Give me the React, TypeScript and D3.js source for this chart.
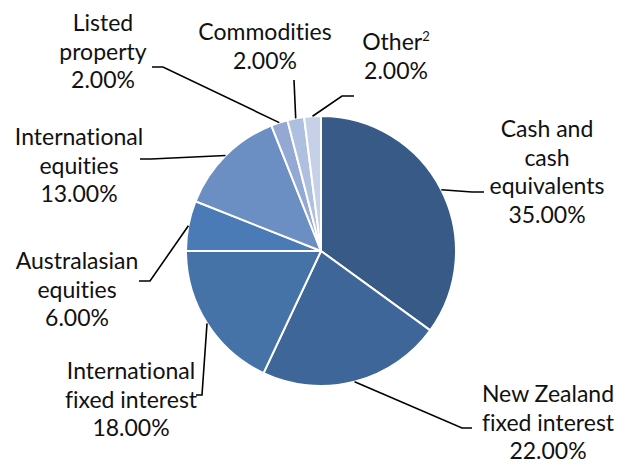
import React from "react";
import * as d3 from "d3";

const categories = [
  "Cash and cash equivalents",
  "New Zealand fixed interest",
  "International fixed interest",
  "Australasian equities",
  "International equities",
  "Listed property",
  "Commodities",
  "Other",
];
const values = [35, 22, 18, 6, 13, 2, 2, 2];
const colors = ["#385a87", "#3e6698", "#4572a7", "#4a7bb7", "#6c8fc3", "#93a8d2", "#aebfdf", "#c6d0e6"];

// label layout: text lines (name split), text center x, first baseline y, leader elbow and end
const nameLines = [
  ["Cash and", "cash", "equivalents"],
  ["New Zealand", "fixed interest"],
  ["International", "fixed interest"],
  ["Australasian", "equities"],
  ["International", "equities"],
  ["Listed", "property"],
  ["Commodities"],
  ["Other"],
];
const labelPos = [
  { x: 547, y: 137, elbow: [472, 192], end: [484, 192] },
  { x: 548, y: 402, elbow: [462, 428], end: [472, 428] },
  { x: 131, y: 379, elbow: [202, 395], end: [196, 395] },
  { x: 77, y: 269, elbow: [150, 281], end: [139, 281] },
  { x: 79, y: 145, elbow: [151, 159], end: [140, 159] },
  { x: 103, y: 31, elbow: [163, 67], end: [152, 67] },
  { x: 265, y: 40, elbow: [294, 80], end: [294, 80] },
  { x: 396, y: 50, elbow: [342, 96], end: [354, 96] },
];

const W = 628;
const H = 463;
const cx = 321;
const cy = 251;
const R = 135;
const LH = 28.7;
const fmt = (v: number) => d3.format(".2f")(v) + "%";

export default function App() {
  const pie = d3.pie<number>().sort(null).value((d) => d);
  const arcs = pie(values);
  const arc = d3.arc<d3.PieArcDatum<number>>().innerRadius(0).outerRadius(R);
  const font = "Lato, 'Liberation Sans', sans-serif";
  return (
    <svg
      width={W}
      height={H}
      style={{ position: "absolute", left: 0, top: 0, background: "#fff", fontVariantLigatures: "none" }}
      fontFamily={font}
    >
      <g transform={`translate(${cx},${cy})`}>
        {arcs.map((a, i) => (
          <path key={i} d={arc(a) || ""} fill={colors[i]} stroke="#fff" strokeWidth={2} strokeLinejoin="round" />
        ))}
      </g>
      {arcs.map((a, i) => {
        const mid = (a.startAngle + a.endAngle) / 2;
        const sx = cx + R * Math.sin(mid);
        const sy = cy - R * Math.cos(mid);
        const p = labelPos[i];
        return (
          <polyline
            key={"l" + i}
            points={`${sx},${sy} ${p.elbow[0]},${p.elbow[1]} ${p.end[0]},${p.end[1]}`}
            fill="none"
            stroke="#000"
            strokeWidth={1.6}
          />
        );
      })}
      {categories.map((c, i) => {
        const p = labelPos[i];
        const lines = nameLines[i];
        return (
          <text
            key={"t" + i}
            x={p.x}
            y={p.y}
            textAnchor="middle"
            fontSize={23}
            fill="#111"
            style={{ fontVariantLigatures: "none" }}
          >
            {lines.map((ln, j) => (
              <tspan key={j} x={p.x} y={p.y + j * LH}>
                {ln}
                {c === "Other" ? (
                  <tspan fontSize={13} dy={-9}>
                    2
                  </tspan>
                ) : null}
              </tspan>
            ))}
            <tspan x={p.x} y={p.y + lines.length * LH}>
              {fmt(values[i])}
            </tspan>
          </text>
        );
      })}
    </svg>
  );
}
